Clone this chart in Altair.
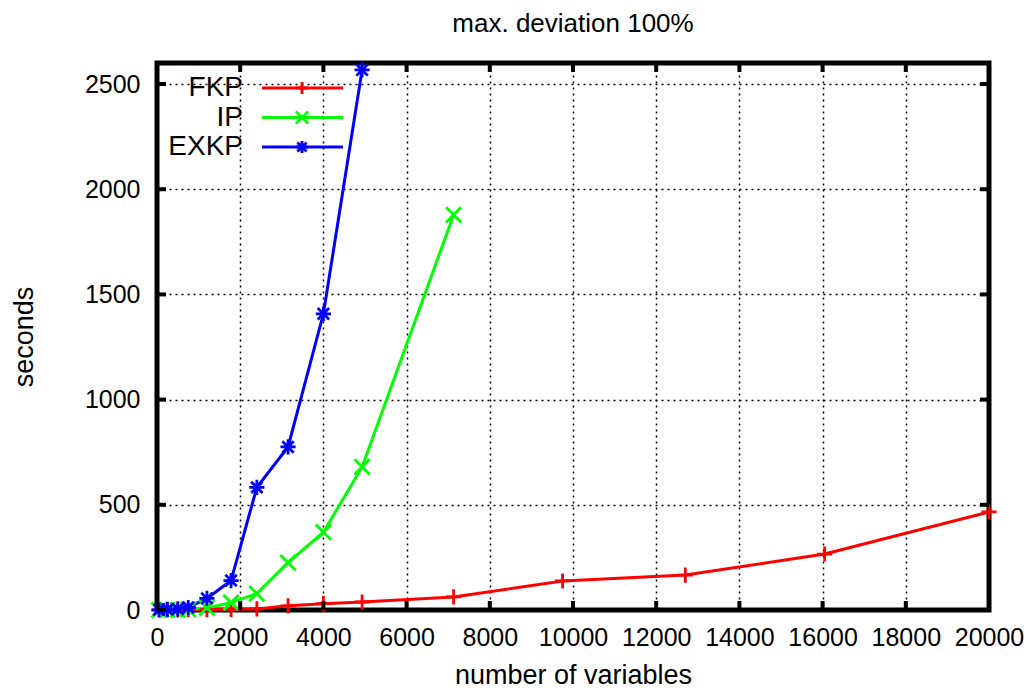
import altair as alt
import pandas as pd

# ---------------- data ----------------
x_vals = [50, 250, 500, 750, 1200, 1780, 2400, 3150, 4000, 4930, 7130, 9750, 12700, 16050, 20000]
fkp = [0.1, 0.3, 0.5, 1, 2, 3, 5, 20, 30, 38, 62, 138, 166, 266, 466]
ip = [0.2, 0.5, 1, 3, 10, 35, 78, 225, 370, 680, 1878]
exkp = [1, 3, 5, 12, 55, 140, 583, 775, 1408, 2567]
series = ["FKP", "IP", "EXKP"]
colors = ["#ff0000", "#00ff00", "#0000ff"]
x_ticks = [0, 2000, 4000, 6000, 8000, 10000, 12000, 14000, 16000, 18000, 20000]
y_ticks = [0, 500, 1000, 1500, 2000, 2500]

PLUS = "M-1,0L1,0M0,-1L0,1"
CROSS = "M-1,-1L1,1M-1,1L1,-1"
STAR = "M-1,0L1,0M0,-1L0,1M-0.75,-0.75L0.75,0.75M-0.75,0.75L0.75,-0.75"
shapes = [PLUS, CROSS, STAR]

rows = []
for name, ys in zip(series, [fkp, ip, exkp]):
    for xv, yv in zip(x_vals, ys):
        rows.append({"n": xv, "sec": yv, "series": name})
df = pd.DataFrame(rows)

W, H = 832, 547
FONT = "Liberation Sans"

xs = alt.Scale(domain=[0, 20000], nice=False, zero=False)
ys_ = alt.Scale(domain=[0, 2600], nice=False, zero=False)
col = alt.Color("series:N", scale=alt.Scale(domain=series, range=colors), legend=None)
shp = alt.Shape("series:N", scale=alt.Scale(domain=series, range=shapes), legend=None)

xaxis = alt.Axis(values=x_ticks, format="d", grid=True, gridDash=[2, 4], gridColor="black",
                 gridWidth=1.5, gridOpacity=1, tickSize=0, domain=False, labelFlush=False,
                 labelOverlap=False, labelFontSize=25, labelFont=FONT, labelColor="black",
                 labelPadding=15, title="number of variables", titleFont=FONT, titleFontSize=27,
                 titleFontWeight="normal", titleColor="black", titleX=W / 2, titleY=65,
                 titleBaseline="middle")
yaxis = alt.Axis(values=y_ticks, format="d", grid=True, gridDash=[2, 4], gridColor="black",
                 gridWidth=1.5, gridOpacity=1, tickSize=0, domain=False, labelOverlap=False,
                 labelFontSize=25, labelFont=FONT, labelColor="black", labelPadding=17,
                 title="seconds", titleFont=FONT, titleFontSize=27, titleFontWeight="normal",
                 titleColor="black", titleX=-125, titleY=H / 2, titleAngle=-90,
                 titleBaseline="alphabetic", titleAlign="center")

base = alt.Chart(df)
lines = base.mark_line(strokeWidth=3).encode(
    x=alt.X("n:Q", scale=xs, axis=xaxis),
    y=alt.Y("sec:Q", scale=ys_, axis=yaxis),
    color=col, detail="series:N")
points = base.mark_point(filled=False, size=230, strokeWidth=2.8, opacity=1).encode(
    x=alt.X("n:Q", scale=xs), y=alt.Y("sec:Q", scale=ys_), color=col, shape=shp)

# inward tick marks (mirrored)
xt = pd.DataFrame({"t": x_ticks})
yt = pd.DataFrame({"t": y_ticks})
tb = alt.Chart(xt).mark_rule(color="black", strokeWidth=4).encode(
    x=alt.X("t:Q", scale=xs), y=alt.value(H), y2=alt.value(H - 9))
tt = alt.Chart(xt).mark_rule(color="black", strokeWidth=4).encode(
    x=alt.X("t:Q", scale=xs), y=alt.value(0), y2=alt.value(9))
tl = alt.Chart(yt).mark_rule(color="black", strokeWidth=4).encode(
    y=alt.Y("t:Q", scale=ys_), x=alt.value(0), x2=alt.value(9))
tr = alt.Chart(yt).mark_rule(color="black", strokeWidth=4).encode(
    y=alt.Y("t:Q", scale=ys_), x=alt.value(W), x2=alt.value(W - 9))

# legend (top-left, gnuplot style: label, then line sample with marker)
leg_layers = []
for i, (name, c, s) in enumerate(zip(series, colors, shapes)):
    yy = 25 + i * 29.5
    ld = pd.DataFrame({"series": [name]})
    leg_layers.append(alt.Chart(ld).mark_text(align="right", baseline="middle", fontSize=28,
                                              font=FONT, color="black").encode(
        x=alt.value(86), y=alt.value(yy), text="series:N"))
    leg_layers.append(alt.Chart(ld).mark_rule(color=c, strokeWidth=3).encode(
        x=alt.value(105), x2=alt.value(186), y=alt.value(yy)))
    leg_layers.append(alt.Chart(ld).mark_point(shape=s, filled=False, size=150, strokeWidth=2.8,
                                               color=c, opacity=1).encode(
        x=alt.value(145), y=alt.value(yy)))

chart = alt.layer(lines, points, tb, tt, tl, tr, *leg_layers).properties(
    width=W, height=H,
    title=alt.TitleParams("max. deviation 100%", font=FONT, fontSize=26, fontWeight="normal",
                          color="black", anchor="middle", offset=20),
    autosize=alt.AutoSizeParams(type="none"),
    padding={"left": 149, "top": 55, "right": 38, "bottom": 79},
).configure(background="white").configure_view(stroke="black", strokeWidth=5)

chart.save("out.html", embed_options={"renderer": "svg", "actions": False})
